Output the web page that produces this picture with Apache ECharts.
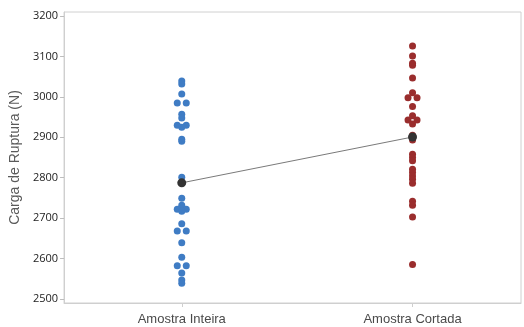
<!DOCTYPE html>
<html>
<head>
<meta charset="utf-8">
<script src="https://cdn.jsdelivr.net/npm/echarts@6/dist/echarts.min.js"></script>
<style>
  html, body { margin: 0; padding: 0; background: #fff; }
  #chart { width: 524px; height: 327px; }
</style>
</head>
<body>
<div id="chart"></div>
<script>
// Individual values of breaking load (N) per sample type
const categories = ['Amostra Inteira', 'Amostra Cortada'];

const inteira = [
  3039, 3032, 3007, 2985, 2985, 2957, 2948, 2930, 2930, 2925, 2895, 2890,
  2801, 2749, 2732, 2722, 2722, 2717, 2686, 2668, 2668, 2639, 2603,
  2582, 2582, 2564, 2547, 2539
];

const cortada = [
  3126, 3101, 3083, 3078, 3047, 3010, 2998, 2998, 2976, 2953, 2943, 2943,
  2933, 2905, 2893, 2858, 2850, 2842, 2821, 2813, 2804, 2796, 2786,
  2742, 2732, 2703, 2585
];

const yTicks = [2500, 2600, 2700, 2800, 2900, 3000, 3100, 3200];

const groups = [inteira, cortada];
const colors = ['#3f7cc4', '#9a2d2d'];

// Spread tied values side by side around the category position
const dodge = 0.0195;
function spread(values, xc) {
  const counts = {};
  values.forEach(v => { counts[v] = (counts[v] || 0) + 1; });
  const seen = {};
  return values.map(v => {
    const n = counts[v];
    const i = seen[v] = (seen[v] || 0) + 1;
    const off = (i - 1 - (n - 1) / 2) * 2 * dodge;
    return [xc + off, v];
  });
}

const mean = arr => arr.reduce((a, b) => a + b, 0) / arr.length;
const means = groups.map((g, i) => [i + 1, mean(g)]);

const series = groups.map((g, i) => ({
  type: 'scatter',
  name: categories[i],
  data: spread(g, i + 1),
  symbolSize: 7,
  itemStyle: { color: colors[i], opacity: 1 },
  z: 2
}));

series.push({
  type: 'line',
  data: means,
  symbol: 'circle',
  symbolSize: 9,
  lineStyle: { color: '#7a7a7a', width: 1 },
  itemStyle: { color: '#333333' },
  z: 5
});

const chart = echarts.init(document.getElementById('chart'), null, { renderer: 'canvas' });
chart.setOption({
  animation: false,
  backgroundColor: '#ffffff',
  grid: {
    left: 64, right: 3, top: 12, bottom: 24,
    show: true, borderColor: '#d0d0d0', borderWidth: 1
  },
  xAxis: {
    type: 'value',
    min: 0.49, max: 2.47,
    splitLine: { show: false },
    axisLine: { show: true, lineStyle: { color: '#cfcfcf' } },
    axisTick: { show: true, customValues: [1, 2], length: 4, lineStyle: { color: '#cfcfcf' } },
    axisLabel: {
      customValues: [1, 2],
      formatter: v => categories[Math.round(v) - 1],
      color: '#4a4a4a', fontSize: 13, margin: 10,
      fontFamily: 'Liberation Sans, Arial, sans-serif'
    }
  },
  yAxis: {
    type: 'value',
    min: 2490, max: 3210,
    name: 'Carga de Ruptura (N)',
    nameLocation: 'middle',
    nameRotate: 90,
    nameGap: 42,
    nameTextStyle: { color: '#5a5a5a', fontSize: 14, fontFamily: 'Liberation Sans, Arial, sans-serif' },
    splitLine: { show: false },
    axisLine: { show: true, lineStyle: { color: '#cfcfcf' } },
    axisTick: { show: true, customValues: yTicks, length: 4, lineStyle: { color: '#bdbdbd' } },
    axisLabel: {
      customValues: yTicks,
      formatter: v => String(v),
      color: '#222', fontSize: 11, margin: 6,
      fontFamily: 'Open Sans, Liberation Sans, sans-serif'
    }
  },
  series: series
});
</script>
</body>
</html>
